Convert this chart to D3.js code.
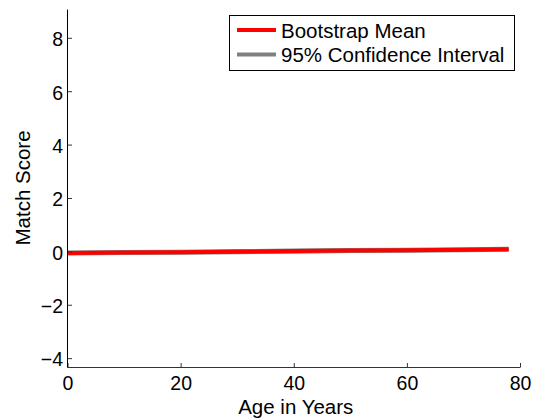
<!DOCTYPE html>
<html>
<head>
<meta charset="utf-8">
<script src="https://cdn.jsdelivr.net/npm/d3@7"></script>
<style>
  html, body { margin: 0; padding: 0; background: #fff; }
  svg { display: block; font-family: "Liberation Sans", Arial, Helvetica, sans-serif; }
</style>
</head>
<body>
<svg id="chart" width="538" height="419"></svg>
<script>
// Bootstrap estimate of match score against age
const ages      = [0, 10, 20, 30, 40, 50, 60, 70, 78];
const meanScore = [-0.06, -0.04, -0.03, -0.01, 0.01, 0.03, 0.04, 0.06, 0.08];
const ciLower   = [-0.08, -0.06, -0.05, -0.03, -0.01, 0.01, 0.02, 0.04, 0.06];
const ciUpper   = [-0.04, -0.02, -0.01, 0.01, 0.03, 0.05, 0.06, 0.08, 0.10];
const xTicks = [0, 20, 40, 60, 80];
const yTicks = [-4, -2, 0, 2, 4, 6, 8];
const legendLabels = ["Bootstrap Mean", "95% Confidence Interval"];
const legendColors = ["#ff0000", "#808080"];

const svg = d3.select("#chart");
const plot = { left: 67.5, right: 520, top: 9.5, bottom: 367.5 };

const x = d3.scaleLinear().domain([0, 80]).range([plot.left, plot.right]);
const y = d3.scaleLinear().domain([-4.35, 9.06]).range([plot.bottom, plot.top]);

const fontSize = 20.5;
const tickFontSize = 19.5;

// confidence interval bounds underneath, mean on top
const line = d3.line().x(d => x(d[0])).y(d => y(d[1]));
[ciLower, ciUpper].forEach(vals => {
  svg.append("path")
    .datum(ages.map((a, i) => [a, vals[i]]))
    .attr("d", line)
    .attr("fill", "none")
    .attr("stroke", legendColors[1])
    .attr("stroke-width", 4);
});
svg.append("path")
  .datum(ages.map((a, i) => [a, meanScore[i]]))
  .attr("d", line)
  .attr("fill", "none")
  .attr("stroke", legendColors[0])
  .attr("stroke-width", 4);

// axes with inward ticks
const xAxis = d3.axisBottom(x).tickValues(xTicks).tickSize(-4.5).tickPadding(10)
  .tickFormat(d3.format("d"));
const gx = svg.append("g").attr("transform", `translate(0,${plot.bottom})`).call(xAxis);
gx.select(".domain").attr("d", `M${plot.left},0H${plot.right}`).attr("stroke", "#333");
gx.selectAll(".tick line").attr("stroke", "#333");
gx.selectAll(".tick text")
  .attr("font-size", tickFontSize).attr("fill", "#000")
  .attr("dy", null).attr("y", 22.5);

const yAxis = d3.axisLeft(y).tickValues(yTicks).tickSize(-4.5).tickPadding(9)
  .tickFormat(d => d < 0 ? "\u2212" + Math.abs(d) : String(d));
const gy = svg.append("g").attr("transform", `translate(${plot.left},0)`).call(yAxis);
gy.select(".domain").attr("d", `M0,${plot.bottom}V${plot.top}`).attr("stroke", "#000");
gy.selectAll(".tick line").attr("stroke", "#333");
gy.selectAll(".tick text")
  .attr("font-size", tickFontSize).attr("fill", "#000")
  .attr("x", -4.5).attr("dy", "0.4em");

// axis titles
svg.append("text")
  .attr("x", (plot.left + plot.right) / 2 + 2)
  .attr("y", 413.5)
  .attr("text-anchor", "middle")
  .attr("font-size", fontSize)
  .text("Age in Years");

svg.append("text")
  .attr("transform", `translate(30,188) rotate(-90)`)
  .attr("text-anchor", "middle")
  .attr("font-size", fontSize)
  .text("Match Score");

// legend
const lg = svg.append("g");
lg.append("rect")
  .attr("x", 229.5).attr("y", 15.5).attr("width", 285).attr("height", 55)
  .attr("fill", "#fff").attr("stroke", "#000").attr("stroke-width", 1);
legendLabels.forEach((lab, i) => {
  const cy = 30 + i * 24.5;
  lg.append("line")
    .attr("x1", 237).attr("x2", 276).attr("y1", cy).attr("y2", cy)
    .attr("stroke", legendColors[i]).attr("stroke-width", 4);
  lg.append("text")
    .attr("x", 281).attr("y", cy + 7.5)
    .attr("font-size", fontSize)
    .text(lab);
});
</script>
</body>
</html>
